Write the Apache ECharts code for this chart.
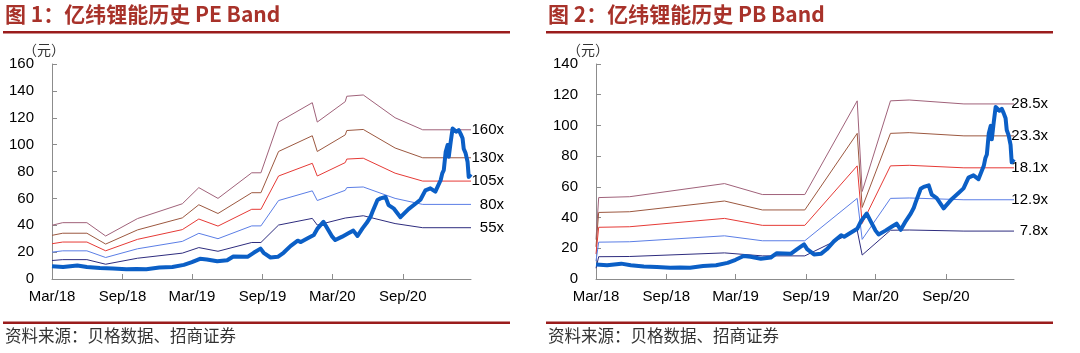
<!DOCTYPE html>
<html>
<head>
<meta charset="utf-8">
<script src="https://cdn.jsdelivr.net/npm/echarts@6/dist/echarts.min.js"></script>
<style>
  html, body { margin: 0; padding: 0; background: #fff; }
  #main { width: 1080px; height: 353px; }
</style>
</head>
<body>
<div id="main"></div>
<script>
// 股价 (元)
const priceDates = ['2018-03-01','2018-03-30','2018-05-06','2018-05-31','2018-07-04','2018-08-07','2018-09-11','2018-10-07','2018-11-02','2018-12-06',
  '2019-01-09','2019-02-08','2019-03-01','2019-03-22','2019-04-09','2019-05-06','2019-06-01','2019-06-17','2019-07-24','2019-08-09',
  '2019-08-27','2019-09-04','2019-09-22','2019-10-11','2019-10-26','2019-11-13','2019-12-02','2019-12-10','2019-12-28','2020-01-13',
  '2020-01-23','2020-02-07','2020-02-17','2020-03-01','2020-03-09','2020-03-27','2020-04-12','2020-04-25','2020-05-06','2020-05-19',
  '2020-06-01','2020-06-09','2020-06-14','2020-06-27','2020-07-05','2020-07-18','2020-07-26','2020-08-08','2020-08-26','2020-09-16',
  '2020-10-04','2020-10-17','2020-10-30','2020-11-12','2020-11-25','2020-12-09','2020-12-13','2020-12-17','2020-12-22','2020-12-27',
  '2020-12-30','2021-01-04','2021-01-09','2021-01-14','2021-01-19','2021-01-25','2021-01-30','2021-02-04','2021-02-07','2021-02-12',
  '2021-02-17','2021-02-20','2021-02-26'];
const priceValues = [9.5,9,10,9,8.2,7.8,7.3,7.5,7.3,8.5,
  9,10.5,12.5,15,14.5,13.2,14,16.8,16.5,19.5,
  22.6,19.5,16,16.5,19.5,24.5,28.5,27.5,30.3,32.7,
  37.7,42.6,37.7,31.5,29,31.5,34,36,32,37.7,
  42.6,46.4,50,58.8,60,61,55,52.6,46,52,
  56,59,66,67.5,65,73.7,78.6,81,94.7,99.7,
  91,102,112,113.3,109.6,110.8,108,104.7,97,93.5,
  87.3,76,78];

// PE Band: EPS 折点
const epsDates = ['2018-03-01','2018-03-29','2018-05-31','2018-07-19','2018-10-10','2019-02-04','2019-03-19','2019-05-08','2019-08-04','2019-08-28',
  '2019-10-13','2020-01-09','2020-01-22','2020-04-04','2020-04-08','2020-05-21','2020-08-12','2020-10-23','2021-02-26'];
const epsValues = [0.25,0.262,0.262,0.2,0.281,0.35,0.425,0.375,0.494,0.494,
  0.73,0.82,0.73,0.825,0.85,0.856,0.75,0.694,0.694];
const peMultiples = [160,130,105,80,55];

// PB Band: BPS 折点
const bpsDates = ['2018-03-01','2018-03-08','2018-05-28','2019-01-31','2019-05-10','2019-08-29','2020-01-13','2020-01-26','2020-04-09','2020-05-28','2020-10-18','2021-02-26'];
const bpsValues = [0.9,1.86,1.88,2.18,1.93,1.93,4.07,2.0,4.07,4.09,4.0,4.0];
const pbMultiples = [28.5,23.3,18.1,12.9,7.8];

const tickDates = ['2018-03-01','2018-09-01','2019-03-01','2019-09-01','2020-03-01','2020-09-01'];
const yMaxPE = 160, yMaxPB = 140;

const bandColors = ['#A0627A','#9C5840','#E63A36','#5B7EE6','#2E2C7E'];
const months = ['Jan','Feb','Mar','Apr','May','Jun','Jul','Aug','Sep','Oct','Nov','Dec'];
const ts = d => Date.UTC(+d.slice(0, 4), +d.slice(5, 7) - 1, +d.slice(8, 10));

const chart = echarts.init(document.getElementById('main'));

function xAxisFor(idx) {
  const ticks = tickDates.map(ts);
  return {
    type: 'value', gridIndex: idx,
    min: ts('2018-03-01'), max: ts('2021-02-26'),
    axisLine: {lineStyle: {color: '#8c8c8c'}},
    axisTick: {inside: true, length: 5, lineStyle: {color: '#8c8c8c'}, customValues: ticks},
    axisLabel: {
      customValues: ticks,
      color: '#000', fontSize: 15, fontFamily: 'Liberation Sans', margin: 10,
      formatter: v => { const d = new Date(v); return months[d.getUTCMonth()] + '/' + String(d.getUTCFullYear()).slice(2); }
    },
    splitLine: {show: false}
  };
}
function yAxisFor(idx, max) {
  return {
    type: 'value', gridIndex: idx, min: 0, max: max, interval: 20,
    name: '（元）', nameLocation: 'end', nameGap: 5,
    nameTextStyle: {color: '#333', fontSize: 14, fontFamily: 'Noto Sans CJK SC', align: 'center', padding: [0, 16, 0, 0]},
    axisLine: {show: true, lineStyle: {color: '#8c8c8c'}},
    axisTick: {show: true, inside: true, length: 5, lineStyle: {color: '#8c8c8c'}},
    axisLabel: {color: '#000', fontSize: 15, fontFamily: 'Liberation Sans', margin: 18},
    splitLine: {show: false}
  };
}

function bands(idx, dates, base, multiples, labelShift) {
  return multiples.map((m, k) => ({
    type: 'line', xAxisIndex: idx, yAxisIndex: idx,
    symbol: 'none', silent: true,
    lineStyle: {width: 1, color: bandColors[k]},
    data: dates.map((d, i) => [ts(d), +(base[i] * m).toFixed(2)]),
    endLabel: {
      show: true, formatter: m + 'x', distance: 0, offset: [labelShift, 0], align: 'right',
      color: '#000', fontSize: 15, fontFamily: 'Liberation Sans'
    },
    z: 2
  }));
}
function priceSeries(idx) {
  return {
    type: 'line', xAxisIndex: idx, yAxisIndex: idx,
    symbol: 'none', silent: true,
    lineStyle: {width: 4, color: '#0B5FC6', join: 'round'},
    data: priceDates.map((d, i) => [ts(d), priceValues[i]]),
    z: 3
  };
}

function header(x, title) {
  return [
    {type: 'text', left: x + 2, top: 4, style: {text: title, fill: '#A8322A', font: 'bold 21px "Noto Sans CJK SC"'}},
    {type: 'rect', left: x, top: 31, shape: {width: 507, height: 2.5}, style: {fill: '#9A1C1C'}},
    {type: 'rect', left: x, top: 321.5, shape: {width: 507, height: 2.5}, style: {fill: '#9A1C1C'}},
    {type: 'text', left: x + 2, top: 327, style: {text: '资料来源：贝格数据、招商证券', fill: '#333', font: '16.5px "Noto Sans CJK SC"'}}
  ];
}

chart.setOption({
  backgroundColor: '#fff',
  animation: false,
  grid: [
    {left: 52, top: 64, width: 419, height: 215},
    {left: 596, top: 64, width: 418, height: 215}
  ],
  xAxis: [xAxisFor(0), xAxisFor(1)],
  yAxis: [yAxisFor(0, yMaxPE), yAxisFor(1, yMaxPB)],
  graphic: [].concat(
    header(3, '图 1：亿纬锂能历史 PE Band'),
    header(546, '图 2：亿纬锂能历史 PB Band')
  ),
  series: [].concat(
    bands(0, epsDates, epsValues, peMultiples, 33),
    [priceSeries(0)],
    bands(1, bpsDates, bpsValues, pbMultiples, 34),
    [priceSeries(1)]
  )
});
</script>
</body>
</html>
